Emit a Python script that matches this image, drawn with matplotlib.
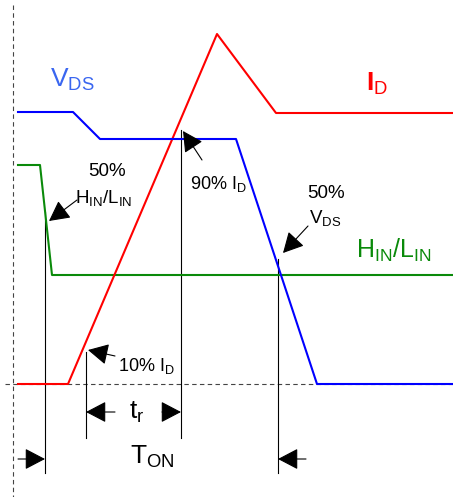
import matplotlib
matplotlib.use("Agg")
import matplotlib.pyplot as plt

plt.rcParams['font.family'] = ['Liberation Sans', 'DejaVu Sans']
plt.rcParams['mathtext.fontset'] = 'custom'
plt.rcParams['mathtext.rm'] = 'Liberation Sans'
plt.rcParams['mathtext.it'] = 'Liberation Sans:italic'
plt.rcParams['mathtext.bf'] = 'Liberation Sans:bold'

# waveforms (time, level) in drawing units, y grows downward
t_id = [18, 68, 217, 276, 453]
y_id = [384, 384, 34, 113, 113]

t_vds = [18, 73, 100, 236, 317, 453]
y_vds = [112, 112, 139, 139, 384, 384]

t_hin = [18, 40, 52, 453]
y_hin = [165, 165, 275, 275]

# vertical marker lines: x, y top, y bottom
mark_x = [45, 86, 181, 278]
mark_top = [212, 352, 130, 259]
mark_bot = [473, 438, 438, 473]

baseline = 384
origin_x = 13

fig = plt.figure(figsize=(4.53, 4.97), dpi=100)
ax = fig.add_axes([0, 0, 1, 1])
ax.set_xlim(0, 453)
ax.set_ylim(497, 0)
ax.axis('off')

# dashed axes
ax.plot([origin_x, origin_x], [5, 497], color='#444444', lw=0.8, ls=(0, (4, 3)))
ax.plot([5, 453], [baseline, baseline], color='#444444', lw=0.8, ls=(0, (4, 3)))

# marker lines
for x, a, b in zip(mark_x, mark_top, mark_bot):
    ax.plot([x, x], [a, b], color='black', lw=0.8)

ax.plot(t_hin, y_hin, color='#0a8a0a', lw=1.5)
ax.plot(t_id, y_id, color='#ff0000', lw=1.5)
ax.plot(t_vds, y_vds, color='#0000ff', lw=1.5)

arrow = dict(arrowstyle='-|>,head_length=0.42,head_width=0.22', color='black',
             lw=0.8, mutation_scale=30, shrinkA=0, shrinkB=0)

def point(tip, tail):
    ax.annotate('', xy=tip, xytext=tail, arrowprops=arrow)

point((49, 221), (77, 200))
point((283, 253), (308, 226))
point((183, 131), (202, 160))
point((88, 350), (115, 356))
point((86, 412), (115, 412))
point((181, 412), (162, 412))
point((45, 459), (18, 459))
point((278, 459), (306, 459))

# labels
ax.text(72, 80, r'$\mathrm{V_{DS}}$', color='#3a66f0', fontsize=19,
        ha='center', va='center')
ax.text(377, 84, r'$\mathbf{I}\mathrm{_D}$', color='#ff0000', fontsize=19,
        ha='center', va='center')
ax.text(394, 250, r'$\mathrm{H_{IN}/L_{IN}}$', color='#0a8a0a', fontsize=18,
        ha='center', va='center')

ax.text(107, 172, '50%', fontsize=13.5, ha='center', va='center')
ax.text(104, 198, r'$\mathrm{H_{IN}/L_{IN}}$', fontsize=13.5, ha='center', va='center')
ax.text(326, 194, '50%', fontsize=13.5, ha='center', va='center')
ax.text(325, 218, r'$\mathrm{V_{DS}}$', fontsize=13.5, ha='center', va='center')
ax.text(218, 184, r'$\mathrm{90\%\ I_D}$', fontsize=13, ha='center', va='center')
ax.text(146, 366, r'$\mathrm{10\%\ I_D}$', fontsize=13, ha='center', va='center')

ax.text(137, 412, r'$\mathrm{t_r}$', fontsize=19, ha='center', va='center')
ax.text(152, 457, r'$\mathrm{T_{ON}}$', fontsize=19, ha='center', va='center')

fig.savefig('out.png', dpi=100)
